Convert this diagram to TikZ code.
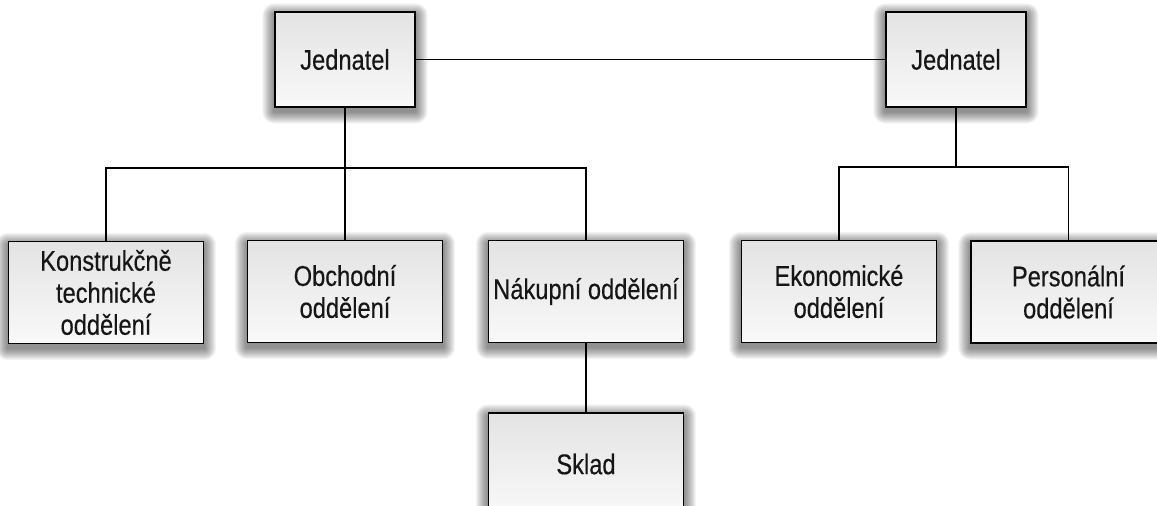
\documentclass[tikz,border=0pt]{standalone}
\usepackage{fontspec}
\setmainfont[FakeStretch=0.83, FakeBold=0.35]{Liberation Sans}
\usetikzlibrary{backgrounds}
\definecolor{boxtop}{HTML}{E3E3E3}
\definecolor{boxbot}{HTML}{F9F9F9}
\definecolor{txt}{HTML}{161616}
\tikzset{
  unit/.style={draw=black, line width=1.4pt, top color=boxtop, bottom color=boxbot,
    minimum width=195pt, minimum height=102pt, inner sep=0pt, align=center,
    font=\fontsize{28.5}{32}\selectfont, text=txt},
  head/.style={unit, minimum width=140pt, minimum height=95pt},
  link/.style={draw=black, line width=1.3pt},
  shadowlayer/.style={fill=black, opacity=0.045}
}
\begin{document}
\begin{tikzpicture}[x=1pt, y=1pt]
  \useasboundingbox (0,0) rectangle (1157,-506);
  \clip (0,0) rectangle (1157,-506);

  % management
  \node[head] (j1) at (345,-59.5) {Jednatel};
  \node[head] (j2) at (956,-59.5) {Jednatel};

  % departments
  \node[unit] (k) at (106,-292.5) {Konstrukčně\\technické\\oddělení};
  \node[unit] (o) at (345,-291.5) {Obchodní\\oddělení};
  \node[unit] (n) at (586,-291.5) {Nákupní oddělení};
  \node[unit] (s) at (586,-464) {Sklad};
  \node[unit] (e) at (839,-291.5) {Ekonomické\\oddělení};
  \node[unit] (p) at (1068.5,-292) {Personální\\oddělení};

  % connectors
  \coordinate (barL) at (345,-168);
  \coordinate (barR) at (956,-167);
  \draw[link] (j1.east) -- (j2.west);
  \draw[link] (j1.south) -- (o.north);
  \draw[link] (k.north) |- (barL) -| (n.north);
  \draw[link] (n.south) -- (s.north);
  \draw[link] (j2.south) -- (barR);
  \draw[link] (e.north) |- (barR) -| (p.north);

  % soft drop shadows behind the boxes
  \begin{scope}[on background layer]
    \fill[white] (0,0) rectangle (1157,-506);
    \foreach \nd in {j1,j2,k,o,n,s,e,p}{
      \foreach \r in {1,...,12}{
        \fill[shadowlayer, rounded corners=\r pt]
          ([shift={(-\r pt,-\r pt-4pt)}]\nd.south west)
          rectangle ([shift={(\r pt,\r pt-4pt)}]\nd.north east);
      }
    }
  \end{scope}
\end{tikzpicture}
\end{document}
